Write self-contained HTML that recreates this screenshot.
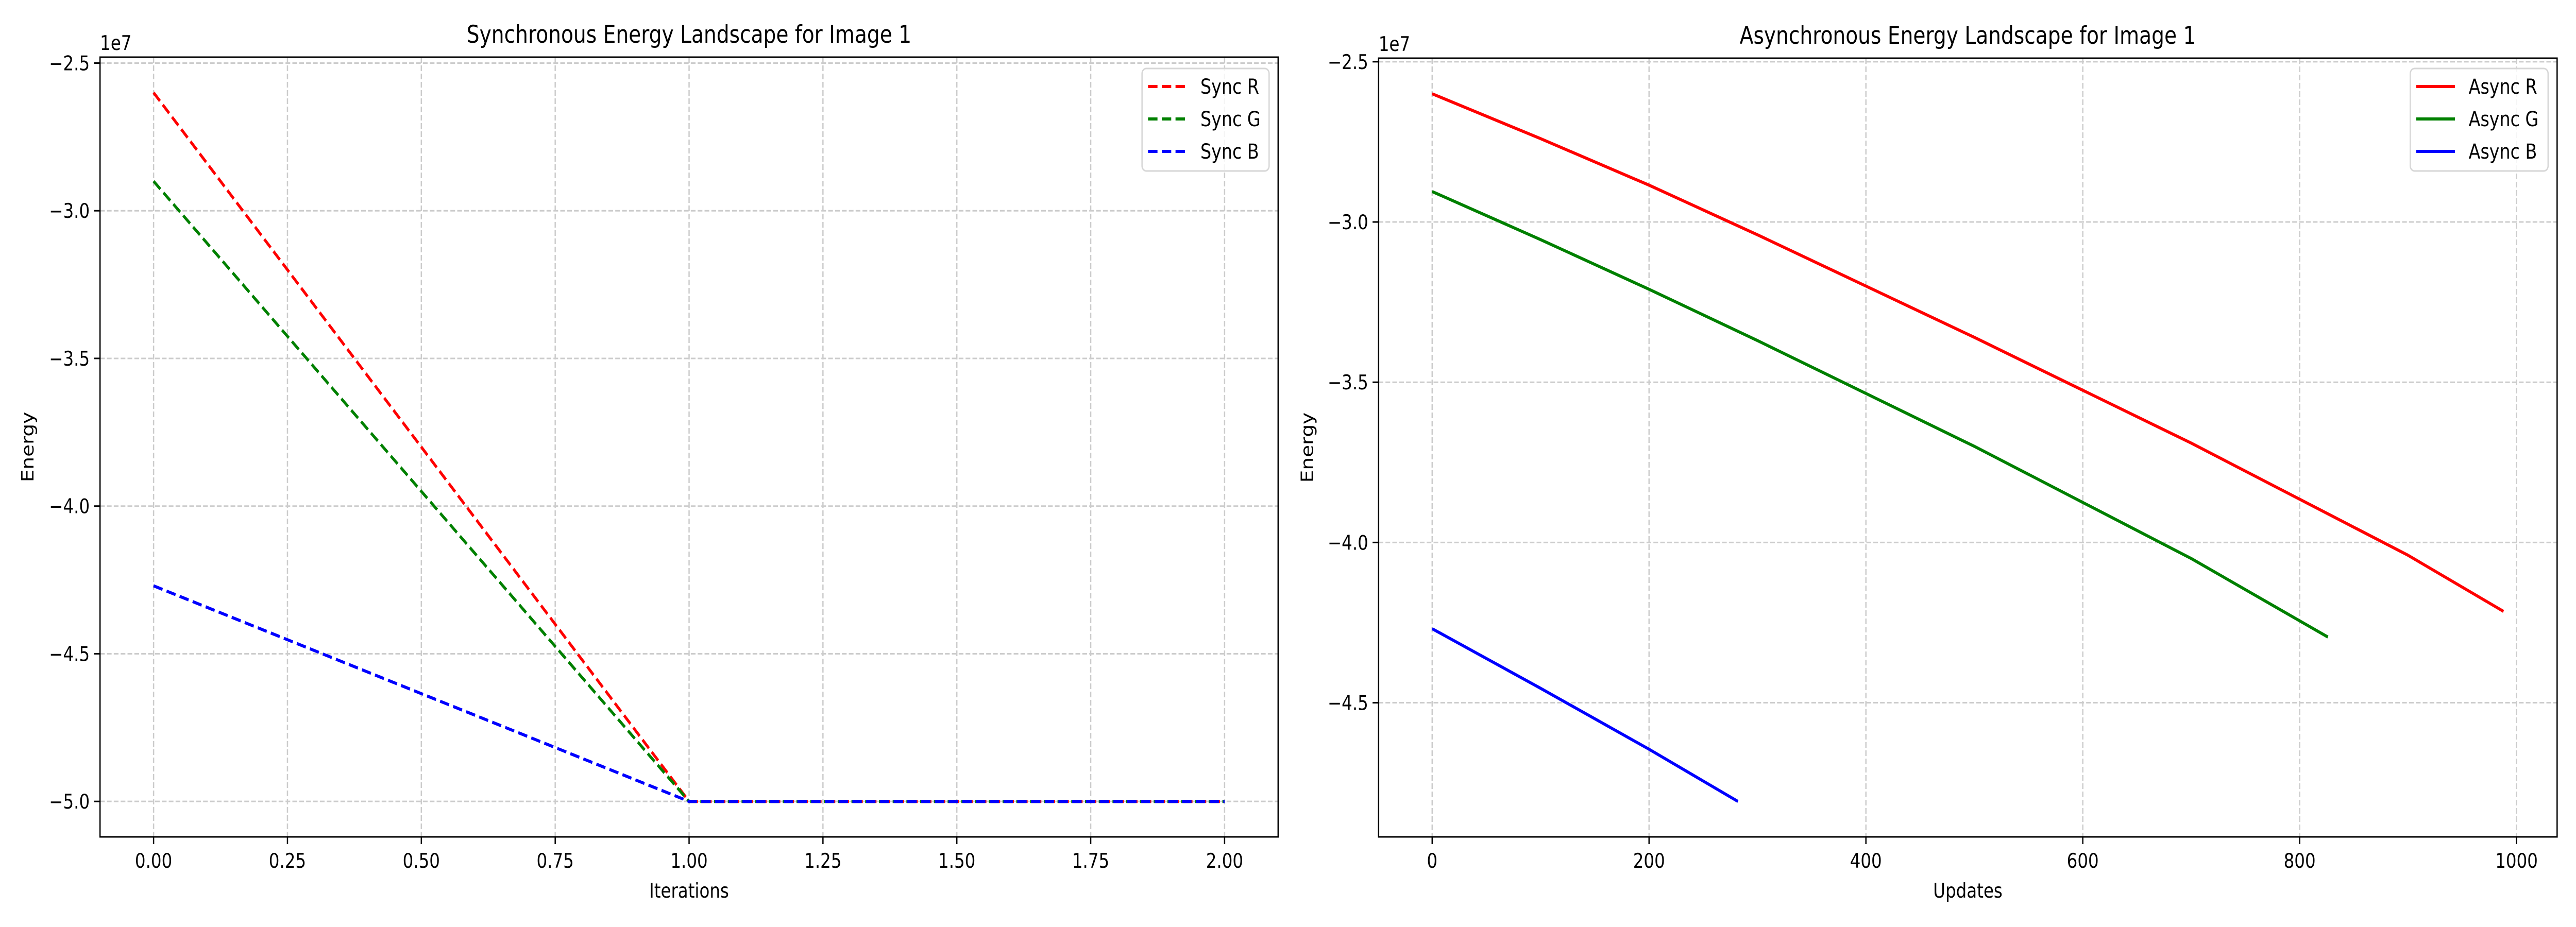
<!DOCTYPE html>
<html><head><meta charset="utf-8">
<style>
html,body{margin:0;padding:0;background:#fff;overflow:hidden;width:100vw;height:100vh;}
svg{display:block;width:100vw;height:100vh;font-family:"DejaVu Sans","Liberation Sans",sans-serif;}
</style></head>
<body>
<svg id="fig" viewBox="0 0 6000 1800" preserveAspectRatio="none" xmlns="http://www.w3.org/2000/svg">
<rect width="6000" height="1800" fill="#fff"/>
</svg>
<script>
// ---- Sync chart data ----
const syncX = [0, 1, 2];
const syncR = [-2.6, -5.0, -5.0];
const syncG = [-2.9, -5.0, -5.0];
const syncB = [-4.27, -5.0, -5.0];
const syncXTicks = [0, 0.25, 0.5, 0.75, 1.0, 1.25, 1.5, 1.75, 2.0];
const syncXTickLabels = ["0.00","0.25","0.50","0.75","1.00","1.25","1.50","1.75","2.00"];
const syncYTicks = [-2.5, -3.0, -3.5, -4.0, -4.5, -5.0];
const syncYTickLabels = ["\u22122.5","\u22123.0","\u22123.5","\u22124.0","\u22124.5","\u22125.0"];
// ---- Async chart data ----
const asyncRX = [0, 100, 200, 300, 400, 500, 600, 700, 800, 900, 988];
const asyncRY = [-2.6, -2.74, -2.885, -3.04, -3.2, -3.36, -3.525, -3.69, -3.865, -4.04, -4.215];
const asyncGX = [0, 100, 200, 300, 400, 500, 600, 700, 826];
const asyncGY = [-2.905, -3.055, -3.21, -3.37, -3.535, -3.7, -3.875, -4.05, -4.295];
const asyncBX = [0, 100, 200, 282];
const asyncBY = [-4.269, -4.455, -4.645, -4.808];
const asyncXTicks = [0, 200, 400, 600, 800, 1000];
const asyncXTickLabels = ["0","200","400","600","800","1000"];
const asyncYTicks = [-2.5, -3.0, -3.5, -4.0, -4.5];
const asyncYTickLabels = ["\u22122.5","\u22123.0","\u22123.5","\u22124.0","\u22124.5"];

const NS = "http://www.w3.org/2000/svg";
const svg = document.getElementById('fig');
function mk(tag, attrs, parent){
  const e = document.createElementNS(NS, tag);
  for (const k in attrs) e.setAttribute(k, attrs[k]);
  (parent||svg).appendChild(e);
  return e;
}

function drawAxes(cfg){
  const g = mk('g', {});
  
  
  const L=cfg.L,R=cfg.R,T=cfg.T,B=cfg.B;
  const sx = v => L + (v - cfg.xmin) / (cfg.xmax - cfg.xmin) * (R - L);
  const sy = v => B - (v - cfg.ymin) / (cfg.ymax - cfg.ymin) * (B - T);
  cfg.xTicks.forEach((t,i)=>{
    const l = mk('line',{x1:sx(t),x2:sx(t),y1:T,y2:B,stroke:'#cccccc','stroke-width':3,'stroke-dasharray':'11 5'},g);
    
    
  });
  cfg.yTicks.forEach((t,i)=>{
    const l = mk('line',{x1:L,x2:R,y1:sy(t),y2:sy(t),stroke:'#cccccc','stroke-width':3,'stroke-dasharray':'11 5'},g);
    
    
  });
  cfg.series.forEach(s=>{
    const pts = s.x.map((xv,i)=> sx(xv).toFixed(1)+','+sy(s.y[i]).toFixed(1)).join(' ');
    const attrs = {points:pts,fill:'none',stroke:s.color,'stroke-width':6,'stroke-linejoin':'round'};
    if (s.dash) attrs['stroke-dasharray'] = '22 10';
    const p = mk('polyline', attrs, g);
    
    
  });
  const fr = mk('rect',{x:L,y:T,width:R-L,height:B-T,fill:'none',stroke:'#000','stroke-width':3},g);
  
  
  cfg.xTicks.forEach((t,i)=>{
    mk('line',{x1:sx(t),x2:sx(t),y1:B,y2:B+14,stroke:'#000','stroke-width':3},g);
    const tx = mk('text',{x:sx(t),y:B+60,'text-anchor':'middle','font-size':39,fill:'#000'},g);
    tx.textContent = cfg.xTickLabels[i];
    
    
  });
  cfg.yTicks.forEach((t,i)=>{
    mk('line',{x1:L-14,x2:L,y1:sy(t),y2:sy(t),stroke:'#000','stroke-width':3},g);
    const tx = mk('text',{x:L-24,y:sy(t)+14,'text-anchor':'end','font-size':39,fill:'#000'},g);
    tx.textContent = cfg.yTickLabels[i];
    
    
  });
  const off = mk('text',{x:L,y:T-14,'font-size':39,fill:'#000'},g);
  off.textContent = '1e7';
  
  
  const ti = mk('text',{x:(L+R)/2,y:T-28,'text-anchor':'middle','font-size':47,fill:'#000'},g);
  ti.textContent = cfg.title;
  
  
  const xl = mk('text',{x:(L+R)/2,y:1743,'text-anchor':'middle','font-size':39,fill:'#000'},g);
  xl.textContent = cfg.xlabel;
  
  
  const yx = cfg.ylabelX, yy = (T+B)/2;
  const yl = mk('text',{x:yx,y:yy,'text-anchor':'middle','font-size':39,fill:'#000',transform:'rotate(-90 '+yx+' '+yy+')'},g);
  yl.textContent = 'Energy';
  
  
  const lg = mk('g',{},g);
  
  
  const lb = mk('rect',{x:cfg.legX,y:133,width:R-20-cfg.legX-1,height:199,rx:10,fill:'#fff','fill-opacity':0.8,stroke:'#d6d6d6','stroke-width':3},lg);
  
  
  cfg.series.forEach((s,i)=>{
    const y = 168 + i*63;
    const e = mk('g',{},lg);
    
    
    const la = {x1:cfg.legX+14,x2:cfg.legX+104,y1:y,y2:y,stroke:s.color,'stroke-width':6};
    if (s.dash) la['stroke-dasharray']='22 10';
    mk('line',la,e);
    const t = mk('text',{x:cfg.legX+136,y:y+14,'font-size':40,fill:'#000'},e);
    t.textContent = s.label;
  });
}

drawAxes({
  name:'sync-chart', L:233, R:2977, T:111, B:1625,
  xmin:-0.1, xmax:2.1, ymin:-5.12, ymax:-2.48,
  xTicks:syncXTicks, xTickLabels:syncXTickLabels,
  yTicks:syncYTicks, yTickLabels:syncYTickLabels,
  title:'Synchronous Energy Landscape for Image 1', xlabel:'Iterations', ylabelX:78,
  legX:2660,
  series:[
    {id:'sync-r-line',label:'Sync R',color:'#ff0000',dash:true,x:syncX,y:syncR},
    {id:'sync-g-line',label:'Sync G',color:'#008000',dash:true,x:syncX,y:syncG},
    {id:'sync-b-line',label:'Sync B',color:'#0000ff',dash:true,x:syncX,y:syncB}
  ]
});
drawAxes({
  name:'async-chart', L:3211, R:5956, T:113, B:1625,
  xmin:-49.4, xmax:1037.4, ymin:-4.9185, ymax:-2.489,
  xTicks:asyncXTicks, xTickLabels:asyncXTickLabels,
  yTicks:asyncYTicks, yTickLabels:asyncYTickLabels,
  title:'Asynchronous Energy Landscape for Image 1', xlabel:'Updates', ylabelX:3058,
  legX:5614,
  series:[
    {id:'async-r-line',label:'Async R',color:'#ff0000',dash:false,x:asyncRX,y:asyncRY},
    {id:'async-g-line',label:'Async G',color:'#008000',dash:false,x:asyncGX,y:asyncGY},
    {id:'async-b-line',label:'Async B',color:'#0000ff',dash:false,x:asyncBX,y:asyncBY}
  ]
});
</script>
</body></html>
